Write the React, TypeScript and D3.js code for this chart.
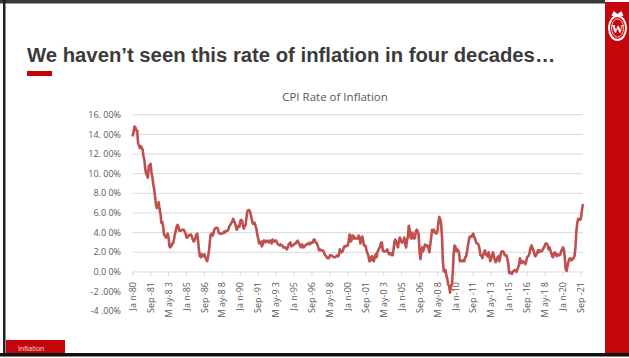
import React from "react";
import * as d3 from "d3";

// Monthly CPI year-over-year rate (%), Jan-1980 .. Nov-2021
const cpi1980s = [
  13.9, 14.2, 14.8, 14.7, 14.4, 14.4, 13.1, 12.9, 12.6, 12.8, 12.6, 12.5,
  11.8, 11.4, 10.5, 10.0, 9.8, 9.6, 10.8, 10.8, 11.0, 10.1, 9.6, 8.9,
  8.4, 7.6, 6.8, 6.5, 6.7, 7.1, 6.4, 5.9, 5.0, 5.1, 4.6, 3.8,
  3.7, 3.5, 3.6, 3.9, 3.5, 2.6, 2.5, 2.6, 2.9, 2.9, 3.3, 3.8,
  4.2, 4.6, 4.8, 4.6, 4.2, 4.2, 4.2, 4.3, 4.3, 4.3, 4.1, 3.9,
  3.5, 3.5, 3.7, 3.7, 3.8, 3.8, 3.6, 3.3, 3.1, 3.2, 3.5, 3.8,
  3.9, 3.1, 2.2, 1.6, 1.5, 1.8, 1.6, 1.6, 1.8, 1.5, 1.3, 1.1,
  1.5, 2.1, 3.0, 3.8, 3.9, 3.7, 3.9, 4.3, 4.4, 4.5, 4.5, 4.4,
  4.0, 3.9, 3.9, 3.9, 3.9, 4.0, 4.1, 4.0, 4.2, 4.2, 4.2, 4.4,
  4.7, 4.8, 5.0, 5.1, 5.4, 5.2, 5.0, 4.7, 4.3, 4.5, 4.7, 4.6,
];
const cpi1990s = [
  5.2, 5.3, 5.2, 4.7, 4.4, 4.7, 4.8, 5.6, 6.2, 6.3, 6.3, 6.1,
  5.7, 5.3, 4.9, 4.9, 5.0, 4.7, 4.4, 3.8, 3.4, 2.9, 3.0, 3.1,
  2.6, 2.8, 3.2, 3.2, 3.0, 3.1, 3.2, 3.1, 3.0, 3.2, 3.0, 2.9,
  3.3, 3.2, 3.1, 3.2, 3.2, 3.0, 2.8, 2.8, 2.7, 2.8, 2.7, 2.7,
  2.5, 2.5, 2.5, 2.4, 2.3, 2.5, 2.8, 2.9, 3.0, 2.6, 2.7, 2.7,
  2.8, 2.9, 2.9, 3.1, 3.2, 3.0, 2.8, 2.6, 2.5, 2.8, 2.6, 2.5,
  2.7, 2.7, 2.8, 2.9, 2.9, 2.8, 3.0, 2.9, 3.0, 3.0, 3.3, 3.3,
  3.0, 3.0, 2.8, 2.5, 2.2, 2.3, 2.2, 2.2, 2.2, 2.1, 1.8, 1.7,
  1.6, 1.4, 1.4, 1.4, 1.7, 1.7, 1.7, 1.6, 1.5, 1.5, 1.5, 1.6,
  1.7, 1.6, 1.7, 2.3, 2.1, 2.0, 2.1, 2.3, 2.6, 2.6, 2.6, 2.7,
];
const cpi2000s = [
  2.7, 3.2, 3.8, 3.1, 3.2, 3.7, 3.7, 3.4, 3.5, 3.4, 3.4, 3.4,
  3.7, 3.5, 2.9, 3.3, 3.6, 3.2, 2.7, 2.7, 2.6, 2.1, 1.9, 1.6,
  1.1, 1.1, 1.5, 1.6, 1.2, 1.1, 1.5, 1.8, 1.5, 2.0, 2.2, 2.4,
  2.6, 3.0, 3.0, 2.2, 2.1, 2.1, 2.1, 2.2, 2.3, 2.0, 1.8, 1.9,
  1.9, 1.7, 1.7, 2.3, 3.1, 3.3, 3.0, 2.7, 2.5, 3.2, 3.5, 3.3,
  3.0, 3.0, 3.1, 3.5, 2.8, 2.5, 3.2, 3.6, 4.7, 4.3, 3.5, 3.4,
  4.0, 3.6, 3.4, 3.5, 4.2, 4.3, 4.1, 3.8, 2.1, 1.3, 2.0, 2.5,
  2.1, 2.4, 2.8, 2.6, 2.7, 2.7, 2.4, 2.0, 2.8, 3.5, 4.3, 4.1,
  4.3, 4.0, 4.0, 3.9, 4.2, 5.0, 5.6, 5.4, 4.9, 3.7, 1.1, 0.1,
  0.0, 0.2, -0.4, -0.7, -1.3, -1.4, -2.1, -1.5, -1.3, -0.2, 1.8, 2.7,
];
const cpi2010s = [
  2.6, 2.1, 2.3, 2.2, 2.0, 1.1, 1.2, 1.1, 1.1, 1.2, 1.1, 1.5,
  1.6, 2.1, 2.7, 3.2, 3.6, 3.6, 3.6, 3.8, 3.9, 3.5, 3.4, 3.0,
  2.9, 2.9, 2.7, 2.3, 1.7, 1.7, 1.4, 1.7, 2.0, 2.2, 1.8, 1.7,
  1.6, 2.0, 1.5, 1.1, 1.4, 1.8, 2.0, 1.5, 1.2, 1.0, 1.2, 1.5,
  1.6, 1.1, 1.5, 2.0, 2.1, 2.1, 2.0, 1.7, 1.7, 1.7, 1.3, 0.8,
  -0.1, 0.0, -0.1, -0.2, 0.0, 0.1, 0.2, 0.2, 0.0, 0.2, 0.5, 0.7,
  1.4, 1.0, 0.9, 1.1, 1.0, 1.0, 0.8, 1.1, 1.5, 1.6, 1.7, 2.1,
  2.5, 2.7, 2.4, 2.2, 1.9, 1.6, 1.7, 1.9, 2.2, 2.0, 2.2, 2.1,
  2.1, 2.2, 2.4, 2.5, 2.8, 2.9, 2.9, 2.7, 2.3, 2.5, 2.2, 1.9,
  1.6, 1.5, 1.9, 2.0, 1.8, 1.6, 1.8, 1.7, 1.7, 1.8, 2.1, 2.3,
];
const cpi2020s = [
  2.5, 2.3, 1.5, 0.3, 0.1, 0.6, 1.0, 1.3, 1.4, 1.2, 1.2, 1.4,
  1.4, 1.7, 2.6, 4.2, 5.0, 5.4, 5.4, 5.3, 5.4, 6.2, 6.8,
];
const cpiRate = [...cpi1980s, ...cpi1990s, ...cpi2000s, ...cpi2010s, ...cpi2020s];

const xTickLabels = [
  "Ja n-80", "Sep -81", "M ay-8 3", "Ja n-85", "Sep -86", "M ay-8 8", "Ja n-90",
  "Sep -91", "M ay-9 3", "Ja n-95", "Sep -96", "M ay-9 8", "Ja n-00", "Sep -01",
  "M ay-0 3", "Ja n-05", "Sep -06", "M ay-0 8", "Ja n-10", "Sep -11", "M ay-1 3",
  "Ja n-15", "Sep -16", "M ay-1 8", "Ja n-20", "Sep -21",
];
const xTickStep = 20;
const yTickValues = [16, 14, 12, 10, 8, 6, 4, 2, 0, -2, -4];
const yTickLabels = [
  "16. 00%", "14. 00%", "12. 00%", "10. 00%", "8.0 0%", "6.0 0%", "4.0 0%",
  "2.0 0%", "0.0 0%", "-2 .00%", "-4 .00%",
];

const slideTitle = "We haven\u2019t seen this rate of inflation in four decades\u2026";
const chartTitle = "CPI Rate of Inflation";
const footerTag = "Inflation";

const W = 629;
const H = 358;
const RED = "#c5050c";

export default function App() {
  const x = d3.scaleLinear().domain([0, cpiRate.length - 1]).range([132.7, 582.7]);
  const y = d3.scaleLinear().domain([-4, 16]).range([311.3, 114.7]);
  const line = d3
    .line<number>()
    .x((_, i) => x(i))
    .y((d) => y(d));
  const gridVals = yTickValues.filter((v) => v > 0);
  const tickFont = "'Open Sans', 'Liberation Sans', sans-serif";

  return (
    <svg
      width={W}
      height={H}
      style={{ position: "absolute", left: 0, top: 0, background: "#fff" }}
    >
      <rect x={0} y={0} width={W} height={H} fill="#fff" />
      {/* slide frame */}
      <rect x={0} y={0} width={605} height={3.5} fill="#3a3a3a" />
      <rect x={3} y={0} width={2.5} height={356} fill="#222" />
      <rect x={0} y={353} width={W} height={3.5} fill="#111" />
      {/* right red band */}
      <rect x={605} y={2} width={24} height={351} fill={RED} />
      {/* crest logo */}
      <g transform="translate(617.5,28)">
        <ellipse cx={0} cy={0} rx={9.5} ry={13} fill="#fff" />
        <ellipse cx={0} cy={0} rx={7.5} ry={11} fill={RED} />
        <ellipse cx={0} cy={0} rx={6} ry={9.2} fill="none" stroke="#fff" strokeWidth={0.8} />
        <path d="M-6,-12 L-4,-17 L0,-14 L4,-17 L6,-12 Z" fill="#fff" />
        <text
          x={0}
          y={4.5}
          textAnchor="middle"
          fontFamily="'Liberation Serif', serif"
          fontWeight="bold"
          fontSize={12}
          fill="#fff"
        >
          W
        </text>
      </g>
      {/* title */}
      <text
        x={27}
        y={62}
        fontFamily="'Liberation Sans', Arial, sans-serif"
        fontWeight="bold"
        fontSize={20.3}
        fill="#3b3b3b"
      >
        {slideTitle}
      </text>
      <rect x={27} y={71} width={25} height={5} fill={RED} />
      {/* footer tag */}
      <rect x={6} y={340} width={59} height={13} fill={RED} />
      <text
        x={18}
        y={350.5}
        fontFamily="'Liberation Sans', Arial, sans-serif"
        fontSize={7.5}
        fill="#f3c8c8"
      >
        {footerTag}
      </text>
      {/* chart title */}
      <text
        x={335}
        y={101}
        textAnchor="middle"
        fontFamily={tickFont}
        fontSize={11.5}
        fill="#595959"
      >
        {chartTitle}
      </text>
      {/* gridlines */}
      {gridVals.map((v) => (
        <line
          key={v}
          x1={x.range()[0]}
          x2={x.range()[1]}
          y1={y(v)}
          y2={y(v)}
          stroke="#d9d9d9"
          strokeWidth={1}
        />
      ))}
      {/* x axis at zero */}
      <line
        x1={x.range()[0]}
        x2={x.range()[1]}
        y1={y(0)}
        y2={y(0)}
        stroke="#d9d9d9"
        strokeWidth={1}
      />
      {xTickLabels.map((lab, k) => {
        const xi = x(k * xTickStep);
        return (
          <g key={lab}>
            <line x1={xi} x2={xi} y1={y(0)} y2={y(0) + 4} stroke="#d9d9d9" strokeWidth={1} />
            <text
              transform={`translate(${xi},${y(0) + 10}) rotate(-90)`}
              textAnchor="end"
              dy="0.35em"
              fontFamily={tickFont}
              fontSize={9}
              fill="#595959"
            >
              {lab}
            </text>
          </g>
        );
      })}
      {/* y tick labels */}
      {yTickValues.map((v, k) => (
        <text
          key={v}
          x={121}
          y={y(v)}
          dy="0.35em"
          textAnchor="end"
          fontFamily={tickFont}
          fontSize={9}
          fill="#595959"
        >
          {yTickLabels[k]}
        </text>
      ))}
      {/* series */}
      <path
        d={line(cpiRate) || ""}
        fill="none"
        stroke="#c0504d"
        strokeWidth={2.6}
        strokeLinejoin="round"
        strokeLinecap="round"
      />
    </svg>
  );
}
